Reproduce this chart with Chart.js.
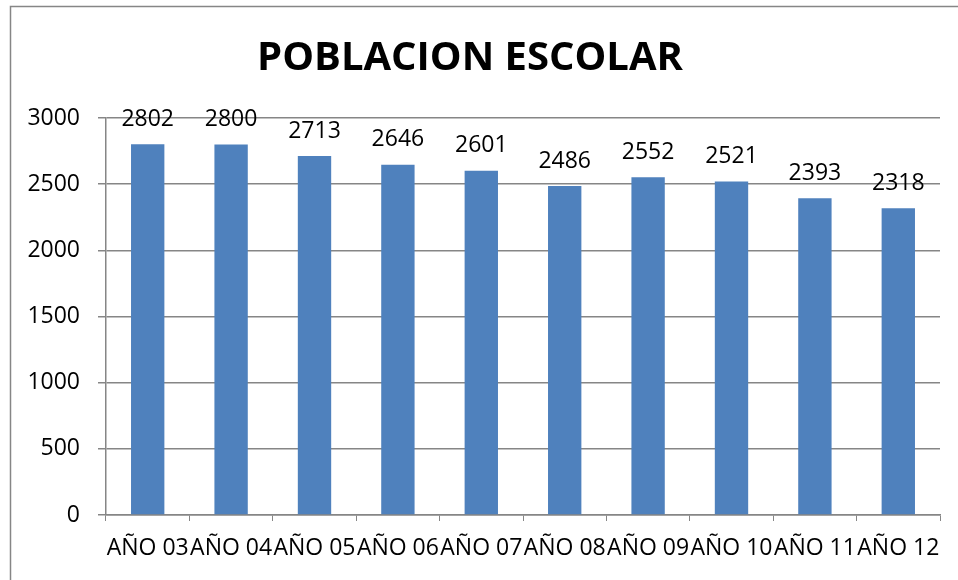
<!DOCTYPE html>
<html>
<head>
<meta charset="utf-8">
<script src="https://cdn.jsdelivr.net/npm/chart.js@4/dist/chart.umd.min.js"></script>
<style>
  body { margin: 0; background: #fff; }
  #wrap { width: 958px; height: 580px; }
</style>
</head>
<body>
<div id="wrap"><canvas id="myChart" width="958" height="580"></canvas></div>
<script>
const years = ["AÑO 03", "AÑO 04", "AÑO 05", "AÑO 06", "AÑO 07", "AÑO 08", "AÑO 09", "AÑO 10", "AÑO 11", "AÑO 12"];
const students = [2802, 2800, 2713, 2646, 2601, 2486, 2552, 2521, 2393, 2318];
const yTicks = [0, 500, 1000, 1500, 2000, 2500, 3000];

const FONT = "'Open Sans', sans-serif";
const gridGray = "#868686";

// frame round the whole chart (right and bottom edges fall outside the picture)
const frame = {
    id: 'frame',
    beforeDraw(chart) {
        const ctx = chart.ctx;
        ctx.save();
        ctx.strokeStyle = gridGray;
        ctx.lineWidth = 1.5;
        ctx.strokeRect(10.5, 6.5, 1000, 1000);
        ctx.restore();
    }
};

// value labels above each bar
const valueLabels = {
    id: 'valueLabels',
    afterDatasetsDraw(chart) {
        const ctx = chart.ctx;
        const meta = chart.getDatasetMeta(0);
        ctx.save();
        ctx.font = "23px " + FONT;
        ctx.fillStyle = "#000";
        ctx.textAlign = "center";
        ctx.textBaseline = "middle";
        meta.data.forEach((bar, i) => {
            ctx.fillText(String(students[i]), bar.x, bar.y - 25);
        });
        ctx.restore();
    }
};

new Chart(document.getElementById("myChart").getContext("2d"), {
    type: "bar",
    data: {
        labels: years,
        datasets: [{
            data: students,
            backgroundColor: "#4F81BD",
            borderWidth: 0,
            barPercentage: 0.4,
            categoryPercentage: 1.0
        }]
    },
    options: {
        responsive: false,
        animation: false,
        layout: { padding: { top: 0, right: 18, left: 0, bottom: 0 } },
        plugins: {
            legend: { display: false },
            tooltip: { enabled: false },
            title: {
                display: true,
                text: "POBLACION ESCOLAR",
                color: "#000",
                font: { family: FONT, size: 40, weight: "bold", lineHeight: 1.2 },
                padding: { top: 35, bottom: 35 }
            }
        },
        scales: {
            x: {
                grid: { display: true, drawOnChartArea: false, drawTicks: true, tickLength: 6, color: gridGray, offset: true },
                border: { color: gridGray, width: 1.5 },
                ticks: { color: "#000", font: { family: FONT, size: 23 }, padding: 14, maxRotation: 0, autoSkip: false },
                afterFit(scale) { scale.height = 65; }
            },
            y: {
                min: 0,
                max: 3000,
                afterBuildTicks(scale) { scale.ticks = yTicks.map(v => ({ value: v })); },
                grid: { color: gridGray, lineWidth: 1.5, tickLength: 8 },
                border: { color: gridGray, width: 1.5 },
                ticks: { color: "#000", font: { family: FONT, size: 23 }, padding: 18, callback: v => String(v) },
                afterFit(scale) { scale.width = 106; }
            }
        }
    },
    plugins: [frame, valueLabels]
});
</script>
</body>
</html>
